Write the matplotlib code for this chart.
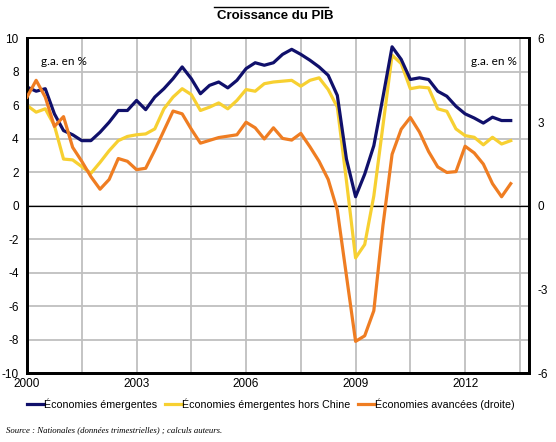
import numpy as np
import matplotlib.pyplot as plt
from matplotlib.lines import Line2D

# quarterly data, 2000Q1 .. 2013Q2
dates = 2000 + np.arange(54) / 4

emergentes = [7.1, 6.85, 7.0, 5.5, 4.5, 4.25, 3.9, 3.9, 4.4, 5.0,
              5.7, 5.7, 6.3, 5.75, 6.5, 7.0, 7.6, 8.3, 7.6, 6.7,
              7.2, 7.4, 7.05, 7.5, 8.2, 8.55, 8.4, 8.55, 9.05, 9.35,
              9.05, 8.7, 8.3, 7.8, 6.6, 2.8, 0.55, 1.9, 3.6, 6.5,
              9.5, 8.75, 7.55, 7.65, 7.55, 6.85, 6.55, 5.95, 5.5, 5.25,
              4.95, 5.3, 5.1, 5.1]

hors_chine = [6.0, 5.6, 5.8, 4.8, 2.8, 2.75, 2.35, 1.95, 2.6, 3.3,
              3.9, 4.15, 4.25, 4.3, 4.6, 5.8, 6.5, 7.0, 6.65, 5.7,
              5.9, 6.15, 5.8, 6.3, 6.95, 6.85, 7.3, 7.4, 7.45, 7.5,
              7.15, 7.5, 7.65, 6.95, 5.9, 1.5, -3.1, -2.3, 0.6, 4.8,
              9.0, 8.5, 7.0, 7.1, 7.05, 5.8, 5.65, 4.6, 4.2, 4.1,
              3.65, 4.1, 3.7, 3.9]

avancees = [3.9, 4.5, 3.9, 2.85, 3.2, 2.1, 1.6, 1.05, 0.6, 0.95,
            1.7, 1.6, 1.3, 1.35, 2.0, 2.7, 3.4, 3.3, 2.75, 2.25,
            2.35, 2.45, 2.5, 2.55, 3.0, 2.8, 2.4, 2.8, 2.42, 2.36,
            2.6, 2.12, 1.6, 0.95, -0.15, -2.5, -4.85, -4.65, -3.75, -0.7,
            1.85, 2.75, 3.17, 2.65, 1.95, 1.4, 1.2, 1.23, 2.14, 1.9,
            1.5, 0.8, 0.33, 0.8]

labels = ["Économies émergentes", "Économies émergentes hors Chine",
          "Économies avancées (droite)"]
colors = ["#10106b", "#f7d031", "#ef7d22"]

plt.rcParams['font.family'] = ['Liberation Sans', 'DejaVu Sans']
plt.rcParams['axes.unicode_minus'] = False

fig = plt.figure(figsize=(5.56, 4.42), dpi=100)
ax = fig.add_axes([0.0486, 0.155, 0.9028, 0.758])
ax2 = ax.twinx()

ax.plot(dates, emergentes, color=colors[0], lw=2.3, zorder=4)
ax.plot(dates, hors_chine, color=colors[1], lw=2.3, zorder=3)
ax2.plot(dates, avancees, color=colors[2], lw=2.3, zorder=3)

ax.set_xlim(2000, 2013.75)
ax.set_ylim(-10, 10)
ax2.set_ylim(-6, 6)
ax.set_yticks(np.arange(-10, 11, 2))
ax2.set_yticks([-6, -3, 0, 3, 6])
ax.set_xticks(np.arange(2000, 2014, 1.5))
ax.set_xticklabels(["2000", "", "2003", "", "2006", "", "2009", "", "2012", ""])

ax.grid(True, color="#bfbfbf", lw=1.3)
ax.set_axisbelow(True)
ax.axhline(0, color="black", lw=0.9, zorder=2)

ax.tick_params(length=0, labelsize=8.5, pad=6)
ax.tick_params(axis="x", pad=3)
ax2.tick_params(length=0, labelsize=8.5, pad=6)
for a in (ax, ax2):
    for side in ["left", "right", "bottom"]:
        a.spines[side].set_linewidth(2)
    a.spines["top"].set_linewidth(1.4)

ax.text(0.028, 0.93, "g.a. en %", transform=ax.transAxes, fontsize=8.5,
        family="Lato", va="center")
ax.text(0.975, 0.93, "g.a. en %", transform=ax.transAxes, fontsize=8.5,
        family="Lato", va="center", ha="right")

fig.text(0.495, 0.963, "Croissance du PIB", ha="center", va="center",
         fontsize=9.5, fontweight="bold")
fig.add_artist(Line2D([214 / 556, 328 / 556], [1 - 7 / 442, 1 - 7 / 442],
                      color="black", lw=1))

handles = [Line2D([], [], color=c, lw=2.3) for c in colors]
fig.legend(handles, labels, loc="center", bbox_to_anchor=(0.487, 1 - 404 / 442),
           ncol=3, frameon=False, fontsize=7.7, handlelength=1.6,
           handletextpad=0.0, columnspacing=0.7, borderaxespad=0)

fig.text(0.01, 1 - 430 / 442,
         "Source : Nationales (données trimestrielles) ; calculs auteurs.",
         fontsize=6.3, style="italic", family="Liberation Serif", va="center")

fig.savefig("out.png", dpi=100)
